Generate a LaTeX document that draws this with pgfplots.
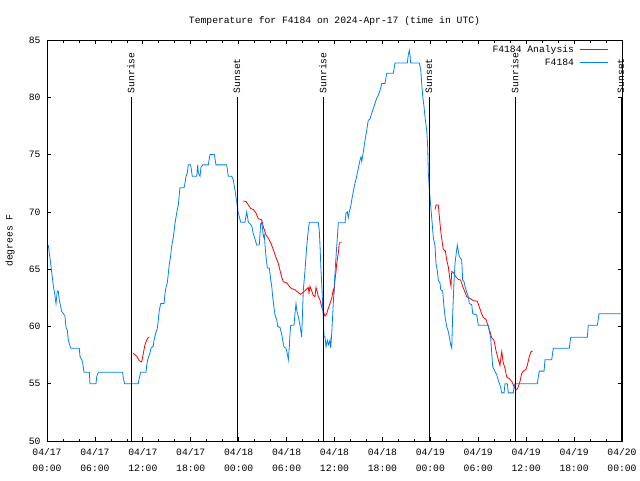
\documentclass[border=0pt]{standalone}
\usepackage{pgfplots}
\pgfplotsset{compat=1.18}
\usepackage{fontspec}
\setmainfont{Liberation Mono}
\definecolor{obsblue}{RGB}{0,128,255}
\definecolor{anared}{RGB}{255,0,0}
\begin{document}
\begin{tikzpicture}[font=\fontsize{9.7}{11.6}\selectfont]
\useasboundingbox (0,0) rectangle (640pt,480pt);
\begin{axis}[
  at={(47pt,39pt)}, anchor=south west,
  scale only axis, width=575pt, height=401pt,
  xmin=0, xmax=72, ymin=50, ymax=85,
  clip=false,
  axis line style={line width=0.8pt},
  xtick={0,6,...,72},
  xticklabels={{04/17\\00:00},{04/17\\06:00},{04/17\\12:00},{04/17\\18:00},{04/18\\00:00},{04/18\\06:00},{04/18\\12:00},{04/18\\18:00},{04/19\\00:00},{04/19\\06:00},{04/19\\12:00},{04/19\\18:00},{04/20\\00:00}},
  xticklabel style={align=center, font=\fontsize{9.7}{16}\selectfont, yshift=-4pt},
  yticklabel style={xshift=-3pt},
  minor x tick num=2,
  ytick={50,55,...,85},
  /pgf/number format/assume math mode=true,
  tick align=inside,
  major tick length=4pt, minor tick length=2.5pt,
  tick style={black, line width=0.7pt},
  title={Temperature for F4184 on 2024-Apr-17 (time in UTC)},
  title style={at={(0.5,1)}, anchor=center, yshift=13pt},
  ylabel={degrees F},
  every axis y label/.style={at={(axis description cs:-0.0643,0.5)}, rotate=90, anchor=center},
  legend plot pos=right,
  legend cell align=right,
  legend image code/.code={\draw[#1] (0pt,0pt) -- (28pt,0pt);},
  legend style={draw=none, fill=none, at={(1,1)}, anchor=north east, xshift=-13pt, yshift=-3pt,
    inner sep=0pt, row sep=0pt, column sep=6pt,
    nodes={inner ysep=2pt, inner xsep=0pt, text height=7pt, text depth=2pt}},
  unbounded coords=jump,
]
\addplot[anared, line width=0.8pt] coordinates {
(10.81,57.65) (11.23,57.4) (11.56,57.0) (11.86,56.9) (12.06,57.65) (12.27,58.4) (12.48,58.8) (12.69,59.05) (12.81,59.05) (12.85,nan)
(24.58,70.95) (24.92,70.9) (25.21,70.6) (25.51,70.3) (25.83,70.2) (26.17,69.9) (26.46,69.4) (26.88,69.3) (27.09,68.7) (27.42,68.0) (27.71,67.7) (28.01,67.3) (28.34,66.7) (28.68,66.0) (28.96,65.5) (29.18,64.9) (29.39,64.3) (29.59,63.9) (30.02,63.8) (30.34,63.5) (30.64,63.3) (31.05,63.2) (31.47,62.95) (31.77,62.8) (32.10,63.0) (32.43,63.2) (32.72,63.4) (32.81,62.9) (32.93,63.5) (33.15,63.1) (33.35,62.7) (33.56,62.6) (33.68,63.4) (33.85,63.0) (33.97,62.6) (34.19,62.3) (34.40,61.7) (34.60,61.3) (34.81,60.9) (35.02,61.1) (35.23,61.6) (35.44,62.0) (35.65,62.45) (35.85,63.2) (35.94,63.0) (36.06,64.05) (36.19,64.8) (36.28,65.5) (36.48,66.4) (36.60,67.3) (36.90,67.3) (37.0,nan)
(48.59,70.2) (48.71,70.6) (49.00,70.6) (49.21,69.0) (49.34,68.1) (49.50,67.3) (49.63,66.7) (49.88,66.6) (50.05,65.8) (50.25,65.2) (50.46,64.05) (50.59,63.5) (50.68,64.8) (50.88,64.7) (51.22,64.3) (51.50,64.1) (51.80,64.05) (52.05,63.5) (52.34,63.0) (52.55,62.6) (52.97,62.45) (53.38,62.25) (53.88,62.2) (54.13,61.7) (54.43,61.1) (54.63,60.8) (54.97,60.6) (55.26,60.0) (55.47,59.55) (55.69,59.0) (55.97,58.8) (56.22,57.9) (56.51,57.1) (56.72,56.6) (56.85,57.35) (56.94,57.8) (57.14,56.8) (57.35,56.35) (57.56,55.6) (57.89,55.45) (58.19,55.2) (58.48,54.75) (58.73,54.45) (58.94,54.6) (59.23,55.2) (59.44,55.9) (59.64,56.1) (59.98,56.25) (60.14,56.6) (60.39,57.35) (60.61,57.8) (60.82,57.85)
};
\addlegendentry{F4184 Analysis}
\addplot[obsblue, line width=0.8pt] coordinates {
(0.16,67.1) (0.46,65.5) (0.63,64.5) (0.75,63.8) (0.88,63.2) (1.00,62.7) (1.06,62.3) (1.13,62.0) (1.29,63.1) (1.41,63.1) (1.54,62.3) (1.72,61.7) (1.84,61.3) (1.97,61.2) (2.25,60.9) (2.38,59.9) (2.54,59.7) (2.67,58.8) (2.79,58.5) (2.97,58.1) (4.04,58.1) (4.13,57.4) (4.35,57.1) (4.47,56.8) (4.63,56.0) (5.30,56.0) (5.38,55.0) (6.14,55.0) (6.22,55.6) (6.42,56.0) (9.48,56.0) (9.55,55.5) (9.73,55.0) (11.43,55.0) (11.56,55.5) (11.73,56.0) (12.40,56.0) (12.48,56.6) (12.61,57.1) (12.90,57.7) (13.02,58.1) (13.31,58.3) (13.40,58.8) (13.61,59.4) (13.81,59.8) (13.94,60.6) (14.06,61.4) (14.24,62.0) (14.65,62.0) (14.78,62.9) (14.90,63.4) (15.06,63.8) (15.19,64.6) (15.31,65.4) (15.40,65.8) (15.49,66.2) (15.61,67.0) (15.82,67.8) (16.03,69.0) (16.24,69.9) (16.44,70.6) (16.65,72.1) (17.16,72.1) (17.28,72.5) (17.41,73.1) (17.57,73.4) (17.69,74.1) (17.99,74.1) (18.19,73.1) (18.75,73.1) (18.87,74.1) (18.95,73.4) (19.16,73.1) (19.28,73.9) (19.50,74.1) (20.20,74.1) (20.41,75.0) (20.95,75.0) (21.16,74.1) (22.50,74.1) (22.70,73.1) (23.13,73.1) (23.33,72.8) (23.54,71.9) (23.75,70.9) (23.95,69.9) (24.26,69.1) (24.79,69.1) (25.01,70.0) (25.21,69.1) (25.63,68.8) (25.83,68.1) (26.05,67.6) (26.26,67.1) (26.58,67.1) (26.76,69.0) (26.88,69.1) (27.01,68.4) (27.09,67.8) (27.21,68.0) (27.30,67.1) (27.42,66.1) (27.59,65.1) (27.84,65.1) (28.01,64.1) (28.14,63.5) (28.26,62.6) (28.43,61.6) (28.55,61.0) (28.76,60.6) (28.89,60.0) (29.18,59.9) (29.39,59.3) (29.51,58.8) (29.68,58.2) (29.93,58.1) (30.09,57.6) (30.22,57.1) (30.34,58.2) (30.43,59.4) (30.52,60.1) (30.93,60.1) (31.05,61.1) (31.18,62.0) (31.27,61.4) (31.47,60.85) (31.68,60.1) (31.89,59.1) (32.02,61.7) (32.10,63.2) (32.31,64.9) (32.52,67.0) (32.72,68.4) (32.85,69.1) (33.97,69.1) (34.10,68.3) (34.19,67.0) (34.31,64.9) (34.44,63.2) (34.52,61.7) (34.60,60.85) (34.69,59.1) (34.81,59.1) (34.94,58.2) (35.10,58.8) (35.27,58.4) (35.44,58.8) (35.53,58.1) (35.65,59.4) (35.78,61.1) (35.94,63.2) (36.10,65.1) (36.28,67.0) (36.35,67.7) (36.48,69.05) (37.32,69.05) (37.44,69.9) (37.60,70.0) (37.73,69.5) (37.85,70.0) (38.03,70.45) (38.15,71.0) (38.36,71.8) (38.57,72.5) (38.78,73.1) (38.98,73.8) (39.19,74.5) (39.32,74.8) (39.41,74.4) (39.61,75.25) (39.86,76.4) (40.03,77.1) (40.23,78.0) (40.45,78.1) (40.66,78.6) (40.95,79.2) (41.28,79.9) (41.49,80.2) (41.70,80.6) (41.91,81.2) (42.32,81.2) (42.54,82.1) (43.37,82.1) (43.58,83.0) (45.12,83.0) (45.24,83.7) (45.37,84.1) (45.45,83.7) (45.54,83.0) (46.62,83.0) (46.80,82.4) (46.92,81.2) (47.05,80.05) (47.21,79.2) (47.33,78.3) (47.55,77.1) (47.67,75.7) (47.75,73.4) (47.87,72.0) (48.05,70.5) (48.17,69.5) (48.37,67.8) (48.59,67.0) (48.71,65.5) (48.87,64.9) (49.00,64.05) (49.21,63.8) (49.30,63.2) (49.55,63.1) (49.71,61.7) (49.84,60.85) (50.05,60.0) (50.25,59.55) (50.38,59.1) (50.55,58.4) (50.68,58.1) (50.74,59.5) (50.80,61.1) (50.96,63.8) (51.09,65.5) (51.30,66.7) (51.38,67.1) (51.50,66.6) (51.63,66.1) (51.93,65.8) (52.05,64.05) (52.22,63.9) (52.34,63.5) (52.55,63.0) (52.76,62.6) (52.88,62.0) (53.18,61.9) (53.31,61.1) (53.81,61.0) (54.01,60.1) (55.26,60.1) (55.39,59.55) (55.56,59.0) (55.69,57.65) (55.81,56.5) (56.10,56.05) (56.31,55.8) (56.51,55.3) (56.81,54.7) (56.94,54.2) (57.23,54.2) (57.35,55.0) (57.64,55.0) (57.76,54.2) (58.39,54.2) (58.48,54.7) (58.60,55.0) (61.40,55.0) (61.52,55.6) (61.65,56.1) (62.24,56.1) (62.36,57.1) (63.20,57.1) (63.40,58.1) (65.40,58.1) (65.58,59.05) (67.66,59.05) (67.78,60.1) (68.91,60.1) (69.12,61.1) (72.00,61.1)
};
\addlegendentry{F4184}
% sunrise / sunset markers
\addplot[black, line width=0.8pt, forget plot] coordinates {(10.52,50) (10.52,80)};
\addplot[black, line width=0.8pt, forget plot] coordinates {(23.79,50) (23.79,80)};
\addplot[black, line width=0.8pt, forget plot] coordinates {(34.56,50) (34.56,80)};
\addplot[black, line width=0.8pt, forget plot] coordinates {(47.83,50) (47.83,80)};
\addplot[black, line width=0.8pt, forget plot] coordinates {(58.60,50) (58.60,80)};
\addplot[black, line width=0.8pt, forget plot] coordinates {(71.87,50) (71.87,80)};
\node[rotate=90, anchor=west, inner sep=0.5pt] at (axis cs:10.52,80.3) {Sunrise};
\node[rotate=90, anchor=west, inner sep=0.5pt] at (axis cs:23.79,80.3) {Sunset};
\node[rotate=90, anchor=west, inner sep=0.5pt] at (axis cs:34.56,80.3) {Sunrise};
\node[rotate=90, anchor=west, inner sep=0.5pt] at (axis cs:47.83,80.3) {Sunset};
\node[rotate=90, anchor=west, inner sep=0.5pt] at (axis cs:58.60,80.3) {Sunrise};
\node[rotate=90, anchor=west, inner sep=0.5pt] at (axis cs:71.87,80.3) {Sunset};
\end{axis}
\end{tikzpicture}
\end{document}
